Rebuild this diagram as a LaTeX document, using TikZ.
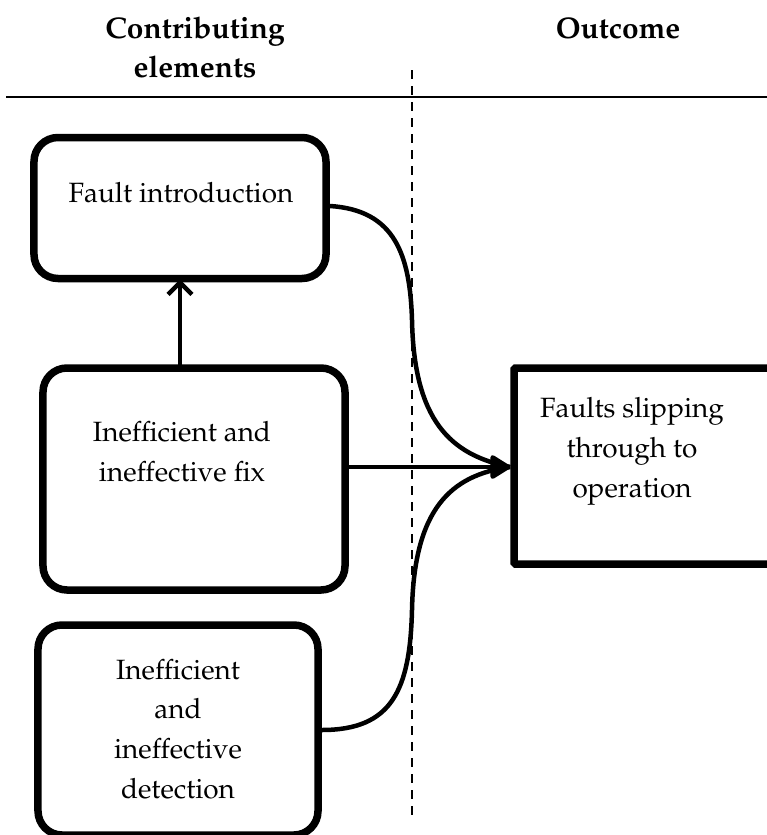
\documentclass[tikz,border=0pt]{standalone}
\usepackage[T1]{fontenc}
\renewcommand{\rmdefault}{ppl}
\usetikzlibrary{arrows.meta}
\begin{document}
\begin{tikzpicture}[x=1bp,y=-1bp,
  roundbox/.style={draw,line width=7.5bp,rounded corners=24bp,inner sep=0pt},
  sqbox/.style={draw,line width=7.5bp,rounded corners=1.5bp,inner sep=0pt},
  label/.style={align=center,font=\fontsize{28}{40}\selectfont,inner sep=0pt},
  header/.style={align=center,font=\fontsize{30}{39}\selectfont\bfseries},
  link/.style={line width=4.5bp},
  divider/.style={line width=2bp,dash pattern=on 9bp off 7bp}]
\useasboundingbox (0,0) rectangle (767,835);
\clip (0,0) rectangle (767,835);

% column headings and separators
\node[header] (hleft) at (195,47) {Contributing\\elements};
\node[header] (hright) at (618,28) {Outcome};
\draw[line width=2.8bp] (6,97) -- (767,97);
\draw[divider] (412,70) -- (412,815);

% boxes
\node[roundbox,minimum width=292bp,minimum height=141bp] (intro) at (180,208) {};
\node[roundbox,minimum width=302bp,minimum height=222bp] (fix) at (194,479) {};
\node[roundbox,minimum width=280bp,minimum height=210bp] (detect) at (178,730) {};
\node[sqbox,minimum width=290bp,minimum height=196bp] (outcome) at (659,466) {};

% box texts
\node[label] (introtxt) at (181,193) {Fault introduction};
\node[label] (fixtxt) at (182,452) {Inefficient and\\ineffective fix};
\node[label] (detecttxt) at (178,729) {Inefficient\\and\\ineffective\\detection};
\node[label] (outcometxt) at (632,451) {Faults slipping\\through to\\operation};

\coordinate (meet) at ([yshift=-1bp]outcome.west);

% connectors
\draw[link,-{Straight Barb[length=12bp,width=24bp,line width=4.5bp]},line cap=round] (fix.north -| 180,0) -- ([yshift=3bp]intro.south -| 180,0);
\draw[link] ([yshift=2bp]intro.east) .. controls (395,210) and (410,255) .. (412,320)
  .. controls (414,420) and (450,455) .. (meet);
\draw[link] (detect.east) .. controls (392,730) and (410,690) .. (412,610)
  .. controls (414,510) and (450,475) .. (meet);
\draw[link,-{Triangle[length=22bp,width=26bp,round]}] (fix.east |- meet) -- (meet);
\end{tikzpicture}
\end{document}
